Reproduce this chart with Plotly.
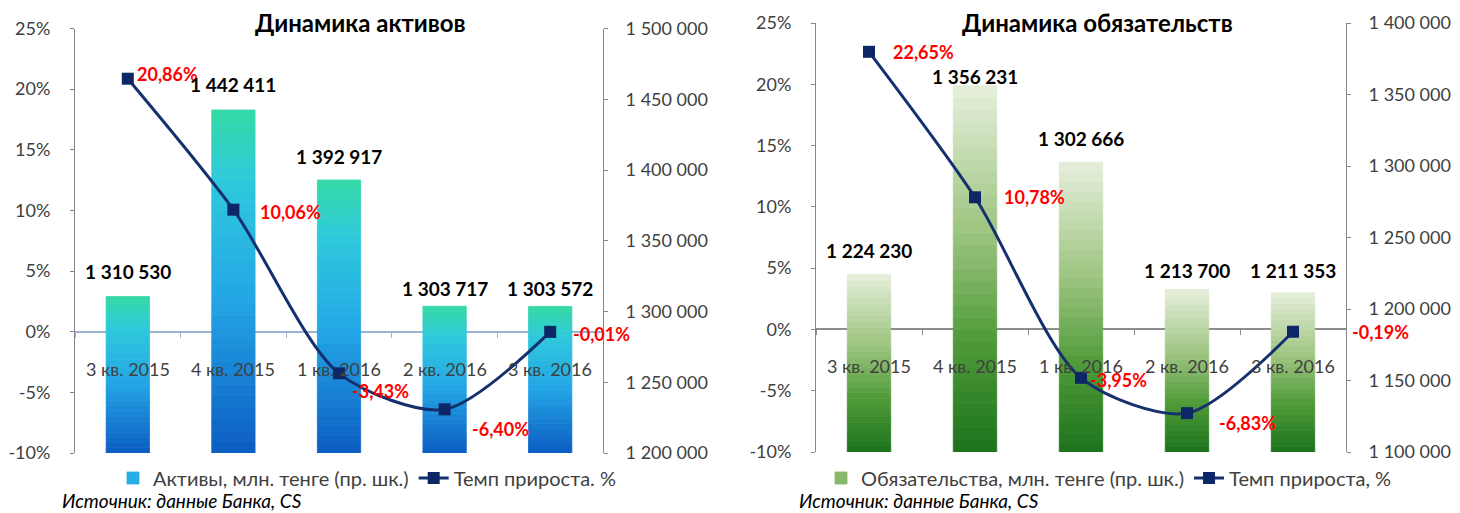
import plotly.graph_objects as go

# ---------------- data ----------------
categories = ["3 кв. 2015", "4 кв. 2015", "1 кв. 2016", "2 кв. 2016", "3 кв. 2016"]

assets = [1310530, 1442411, 1392917, 1303717, 1303572]
assets_growth = [20.86, 10.06, -3.43, -6.40, -0.01]

liabilities = [1224230, 1356231, 1302666, 1213700, 1211353]
liab_growth = [22.65, 10.78, -3.95, -6.83, -0.19]

pct_ticks = [-10, -5, 0, 5, 10, 15, 20, 25]
assets_ticks = [1200000, 1250000, 1300000, 1350000, 1400000, 1450000, 1500000]
liab_ticks = [1100000, 1150000, 1200000, 1250000, 1300000, 1350000, 1400000]

title_assets = "Динамика активов"
title_liab = "Динамика обязательств"
name_assets = "Активы, млн. тенге (пр. шк.)"
name_liab = "Обязательства, млн. тенге (пр. шк.)"
name_growth_left = "Темп прироста. %"
name_growth_right = "Темп прироста, %"
source_text = "Источник: данные Банка, CS"

# ---------------- styling ----------------
FONT = "Lato"
TICK_COLOR = "#404040"
AXIS_COLOR = "#868686"
NAVY_LINE = "#14306e"
NAVY_MARK = "#0d2766"
RED = "#ff0000"
N_SEG = 30

# label offsets (pixels) of the growth labels relative to their markers
assets_lbl_dx = [7, 25, 11, 25, 21]
assets_lbl_dy = [5, -2, -18, -20, -2]
liab_lbl_dx = [22, 27, 7, 30, 57]
liab_lbl_dy = [0, 0, -2, -10, 0]
# offsets (pixels) of the bar value labels above the bar tops
assets_val_dy = [25, 25, 24, 18, 18]
liab_val_dy = [24, 9, 24, 19, 22]

# page offset (default body margin of the html page) and figure size
OFF = 8
W, H = 1460 - OFF, 513 - OFF


def px(x):
    return (x - OFF) / W


def py(y):
    return 1 - (y - OFF) / H


# gradient stops (fraction from bottom, colour)
assets_stops = [(0.0, "#0c5cc2"), (0.45, "#24a6e6"), (0.8, "#2fcadc"), (1.0, "#36d9a4")]
liab_stops = [(0.0, "#1b731b"), (0.3, "#4f9a38"), (0.6, "#9cc47f"), (1.0, "#e6efdb")]


def hex2rgb(h):
    h = h.lstrip("#")
    return tuple(int(h[i:i + 2], 16) for i in (0, 2, 4))


def grad(stops, f):
    for (f0, c0), (f1, c1) in zip(stops[:-1], stops[1:]):
        if f0 <= f <= f1:
            t = (f - f0) / (f1 - f0) if f1 > f0 else 0
            a, b = hex2rgb(c0), hex2rgb(c1)
            return "rgb(%d,%d,%d)" % tuple(round(a[i] + (b[i] - a[i]) * t) for i in range(3))
    return stops[-1][1]


def fmt_int(v):
    return f"{v:,}".replace(",", " ")


def fmt_pct(v):
    return f"{v:.2f}".replace(".", ",") + "%"


fig = go.Figure()
annotations = []


def add_chart(values, growth, vmin, stops, xa, ya_val, ya_pct, legend_id, bar_name, line_name,
              dxs, dys, vdys):
    for k in range(N_SEG):
        f = (k + 0.5) / N_SEG
        col = grad(stops, f)
        h = [(v - vmin) / N_SEG for v in values]
        base = [vmin + k * (v - vmin) / N_SEG for v in values]
        fig.add_trace(go.Bar(
            x=categories, y=h, base=base, xaxis=xa, yaxis=ya_val,
            width=0.41,
            marker=dict(color=col, line=dict(color=col, width=0.8)),
            name=bar_name, legend=legend_id,
            showlegend=(k == N_SEG // 2),
            hoverinfo="skip",
        ))
    fig.add_trace(go.Scatter(
        x=categories, y=growth, xaxis=xa, yaxis=ya_pct,
        mode="lines+markers",
        line=dict(color=NAVY_LINE, width=3, shape="spline", smoothing=0.8),
        marker=dict(symbol="square", size=12, color=NAVY_MARK),
        cliponaxis=False,
        name=line_name, legend=legend_id,
    ))
    for c, g, dx, dy in zip(categories, growth, dxs, dys):
        annotations.append(dict(text="<b>" + fmt_pct(g) + "</b>", x=c, y=g, xref=xa, yref=ya_pct,
                                xanchor="left", yanchor="middle", xshift=dx, yshift=dy,
                                showarrow=False, font=dict(family=FONT, size=18, color=RED)))
    for c, v, dy in zip(categories, values, vdys):
        annotations.append(dict(text="<b>" + fmt_int(v) + "</b>", x=c, y=v, xref=xa, yref=ya_val,
                                xanchor="center", yanchor="middle", yshift=dy, showarrow=False,
                                font=dict(family=FONT, size=19, color="#000000")))
        annotations.append(dict(text=c, x=c, y=0, xref=xa, yref=ya_pct,
                                xanchor="center", yanchor="middle", yshift=-37, showarrow=False,
                                font=dict(family=FONT, size=18, color=TICK_COLOR)))


add_chart(assets, assets_growth, assets_ticks[0], assets_stops, "x", "y", "y2", "legend",
          name_assets, name_growth_left, assets_lbl_dx, assets_lbl_dy, assets_val_dy)
add_chart(liabilities, liab_growth, liab_ticks[0], liab_stops, "x2", "y3", "y4", "legend2",
          name_liab, name_growth_right, liab_lbl_dx, liab_lbl_dy, liab_val_dy)

left_x = [px(75), px(603)]
right_x = [px(816), px(1346)]
left_y = [py(453), py(28.5)]
right_y = [py(452), py(23)]


def zero_pos(dom):
    # paper position of the 0 % level inside a y domain
    return dom[0] + (0 - pct_ticks[0]) / (pct_ticks[-1] - pct_ticks[0]) * (dom[1] - dom[0])


tickfont = dict(family=FONT, size=18, color=TICK_COLOR)


def val_axis(domain, anchor, ticks):
    return dict(domain=domain, anchor=anchor, side="right", range=[ticks[0], ticks[-1]],
                tickvals=ticks, ticktext=[fmt_int(t) for t in ticks],
                showline=True, linecolor=AXIS_COLOR, linewidth=1,
                ticks="outside", ticklen=4, tickcolor=AXIS_COLOR,
                showgrid=False, zeroline=False, tickfont=tickfont, ticklabelstandoff=14,
                automargin=False)


def pct_axis(overlay, anchor, zcolor):
    return dict(overlaying=overlay, anchor=anchor, side="left", range=[pct_ticks[0], pct_ticks[-1]],
                tickvals=pct_ticks, ticktext=[f"{t}%" for t in pct_ticks],
                showline=True, linecolor=AXIS_COLOR, linewidth=1,
                ticks="outside", ticklen=4, tickcolor=AXIS_COLOR,
                showgrid=False, zeroline=True, zerolinecolor=zcolor, zerolinewidth=1.5,
                tickfont=tickfont, ticklabelstandoff=16, automargin=False)


def cat_axis(domain, ydom, tcolor):
    return dict(domain=domain, anchor="free", position=zero_pos(ydom),
                type="category", range=[-0.5, 4.5], showticklabels=False, showline=False,
                ticks="outside", tickson="boundaries", ticklen=5, tickcolor=tcolor,
                showgrid=False, zeroline=False, automargin=False)


legend_font = dict(family=FONT, size=20, color=TICK_COLOR)

fig.update_layout(
    width=W, height=H, autosize=False,
    margin=dict(l=0, r=0, t=0, b=0, pad=0, autoexpand=False),
    paper_bgcolor="white", plot_bgcolor="rgba(0,0,0,0)",
    barmode="overlay",
    separators=", ",
    font=dict(family=FONT, color=TICK_COLOR),
    xaxis=cat_axis(left_x, left_y, "#9db3d2"),
    xaxis2=cat_axis(right_x, right_y, "#8c8c8c"),
    yaxis=val_axis(left_y, "x", assets_ticks),
    yaxis2=pct_axis("y", "x", "#9db3d2"),
    yaxis3=val_axis(right_y, "x2", liab_ticks),
    yaxis4=pct_axis("y3", "x2", "#8c8c8c"),
    legend=dict(orientation="h", x=px(367), xanchor="center", y=py(478), yanchor="middle",
                font=legend_font, bgcolor="rgba(0,0,0,0)", traceorder="normal"),
    legend2=dict(orientation="h", x=px(1109), xanchor="center", y=py(478), yanchor="middle",
                 font=legend_font, bgcolor="rgba(0,0,0,0)", traceorder="normal"),
)

# titles
for t, xc in ((title_assets, 360), (title_liab, 1097)):
    annotations.append(dict(text="<b>" + t + "</b>", x=px(xc), y=py(22), xref="paper", yref="paper",
                            xanchor="center", yanchor="middle", showarrow=False,
                            font=dict(family=FONT, size=24, color="#000000")))
# sources
for xs in (60, 797):
    annotations.append(dict(text="<i>" + source_text + "</i>", x=px(xs), y=py(500), xref="paper", yref="paper",
                            xanchor="left", yanchor="middle", showarrow=False,
                            font=dict(family=FONT, size=19, color="#000000")))

fig.update_layout(annotations=annotations)

fig.write_html("out.html")
